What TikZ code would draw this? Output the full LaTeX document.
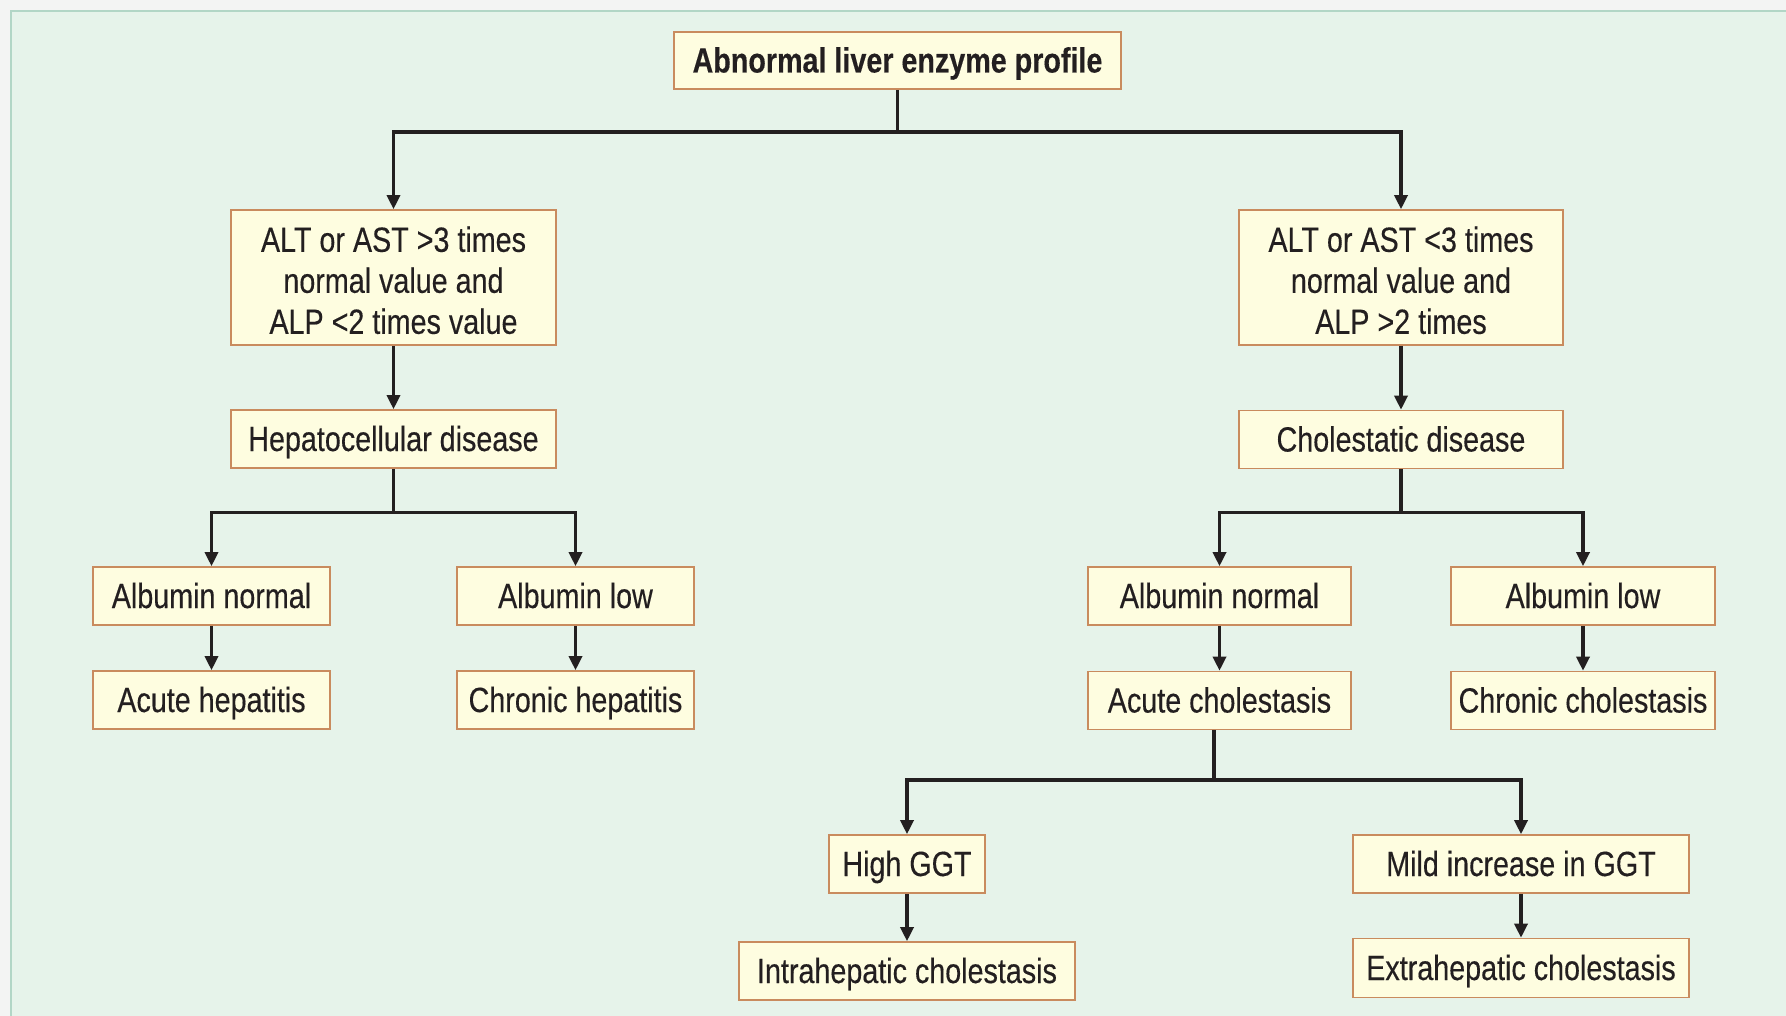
\documentclass[tikz,border=0pt]{standalone}
\usepackage{fontspec}
\setmainfont{Liberation Sans}[FakeStretch=0.82,FakeBold=0.3]
\usetikzlibrary{arrows.meta}
\definecolor{boxfill}{HTML}{FEFDE0}
\definecolor{boxborder}{HTML}{C98B5E}
\definecolor{panelbg}{HTML}{E6F3EA}
\definecolor{panelborder}{HTML}{B2D6C6}
\definecolor{outerbg}{HTML}{F3F4F3}
\definecolor{linecol}{HTML}{231F20}
\tikzset{
  base/.style={draw=boxborder, fill=boxfill, line width=1.6pt, inner sep=0pt,
    text=linecol, font=\fontsize{35}{41}\selectfont},
  box/.style={base, align=center},
  onebox/.style={base, text height=24pt, text depth=0pt},
  conn/.style={line width=3.3pt, draw=linecol},
  arr/.style={conn, -{Triangle[length=14pt,width=13pt]}}
}
\begin{document}
\begin{tikzpicture}[x=1pt,y=-1pt]
\useasboundingbox (0,0) rectangle (1786,1016);
\fill[outerbg] (0,0) rectangle (1786,1016);
\fill[panelbg] (11,11) rectangle (1790,1020);
\draw[panelborder, line width=1.5pt] (11,1020) -- (11,11) -- (1790,11);

% nodes
\node[onebox, minimum width=447pt, minimum height=57pt, font=\fontsize{35}{41}\selectfont\bfseries] (top) at (897.5,60.5) {Abnormal liver enzyme profile};
\node[box, minimum width=325pt, minimum height=135pt] (L1) at (393.5,277.5) {\rule{0pt}{31pt}ALT or AST >3 times\\normal value and\\ALP <2 times value};
\node[box, minimum width=324pt, minimum height=135pt] (R1) at (1401,277.5) {\rule{0pt}{31pt}ALT or AST <3 times\\normal value and\\ALP >2 times};
\node[onebox, minimum width=325pt, minimum height=58pt] (hep) at (393.5,439) {Hepatocellular disease};
\node[onebox, minimum width=324pt, minimum height=58pt] (chol) at (1401,439.5) {Cholestatic disease};
\node[onebox, minimum width=237pt, minimum height=58pt] (albnL) at (211.5,596) {Albumin normal};
\node[onebox, minimum width=237pt, minimum height=58pt] (alblL) at (575.5,596) {Albumin low};
\node[onebox, minimum width=237pt, minimum height=58pt] (acuteh) at (211.5,700) {Acute hepatitis};
\node[onebox, minimum width=237pt, minimum height=58pt] (chronh) at (575.5,700) {Chronic hepatitis};
\node[onebox, minimum width=263pt, minimum height=58pt] (albnR) at (1219.5,596) {Albumin normal};
\node[onebox, minimum width=264pt, minimum height=58pt] (alblR) at (1583,596) {Albumin low};
\node[onebox, minimum width=263pt, minimum height=58pt] (acutec) at (1219.5,700.5) {Acute cholestasis};
\node[onebox, minimum width=264pt, minimum height=58pt] (chronc) at (1583,700.5) {Chronic cholestasis};
\node[onebox, minimum width=156pt, minimum height=58pt] (high) at (907,864) {High GGT};
\node[onebox, minimum width=336pt, minimum height=58pt] (mild) at (1521,864) {Mild increase in GGT};
\node[onebox, minimum width=336pt, minimum height=58pt] (intra) at (907,971) {Intrahepatic cholestasis};
\node[onebox, minimum width=336pt, minimum height=59pt] (extra) at (1521,968) {Extrahepatic cholestasis};

% junctions
\coordinate (j1) at (897.5,132);
\coordinate (j2) at (393.5,512.5);
\coordinate (j3) at (1401,512.5);
\coordinate (j4) at (1214,780);

% connectors
\draw[conn] (top.south) -- (j1);
\draw[arr] (j1) -| (L1.north);
\draw[arr] (j1) -| (R1.north);
\draw[arr] (L1.south) -- (hep.north);
\draw[arr] (R1.south) -- (chol.north);
\draw[conn] (hep.south) -- (j2);
\draw[arr] (j2) -| (albnL.north);
\draw[arr] (j2) -| (alblL.north);
\draw[conn] (chol.south) -- (j3);
\draw[arr] (j3) -| (albnR.north);
\draw[arr] (j3) -| (alblR.north);
\draw[arr] (albnL.south) -- (acuteh.north);
\draw[arr] (alblL.south) -- (chronh.north);
\draw[arr] (albnR.south) -- (acutec.north);
\draw[arr] (alblR.south) -- (chronc.north);
\draw[conn] (acutec.south -| j4) -- (j4);
\draw[arr] (j4) -| (high.north);
\draw[arr] (j4) -| (mild.north);
\draw[arr] (high.south) -- (intra.north);
\draw[arr] (mild.south) -- (extra.north);
\end{tikzpicture}
\end{document}
